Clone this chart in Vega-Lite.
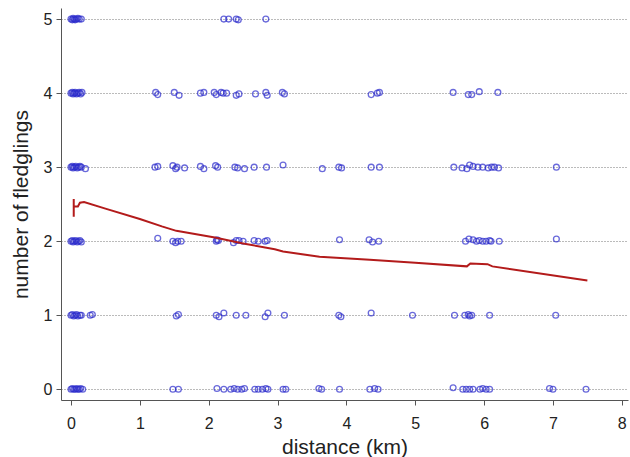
{
  "$schema": "https://vega.github.io/schema/vega-lite/v6.json",
  "width": 567,
  "height": 392,
  "autosize": "none",
  "padding": {"left": 61, "top": 8, "right": 2, "bottom": 57},
  "background": "white",
  "config": {
    "view": {"stroke": null},
    "font": "Liberation Sans",
    "axis": {
      "domainColor": "#555555",
      "tickColor": "#555555",
      "tickSize": 5,
      "labelFontSize": 16,
      "labelColor": "#222222",
      "titleFontSize": 21,
      "titleFontWeight": "normal",
      "titleColor": "#222222",
      "format": "d"
    }
  },
  "layer": [
    {
      "data": {
        "values": [
          {"distance": 0.0, "fledglings": 5.0}, {"distance": 0.02, "fledglings": 4.99}, {"distance": 0.03, "fledglings": 5.01},
          {"distance": 0.05, "fledglings": 5.0}, {"distance": 0.06, "fledglings": 4.99}, {"distance": 0.08, "fledglings": 5.0},
          {"distance": 0.1, "fledglings": 5.01}, {"distance": 0.12, "fledglings": 5.0}, {"distance": 0.15, "fledglings": 5.0},
          {"distance": 2.22, "fledglings": 5.0}, {"distance": 2.29, "fledglings": 5.0}, {"distance": 2.4, "fledglings": 5.0},
          {"distance": 2.43, "fledglings": 4.99}, {"distance": 2.83, "fledglings": 5.0},

          {"distance": 0.0, "fledglings": 4.0}, {"distance": 0.02, "fledglings": 4.01}, {"distance": 0.03, "fledglings": 3.99},
          {"distance": 0.05, "fledglings": 4.0}, {"distance": 0.06, "fledglings": 4.01}, {"distance": 0.08, "fledglings": 3.99},
          {"distance": 0.1, "fledglings": 4.0}, {"distance": 0.12, "fledglings": 4.01}, {"distance": 0.14, "fledglings": 3.99},
          {"distance": 0.16, "fledglings": 4.01},
          {"distance": 1.23, "fledglings": 4.01}, {"distance": 1.26, "fledglings": 3.98}, {"distance": 1.5, "fledglings": 4.01},
          {"distance": 1.57, "fledglings": 3.97}, {"distance": 1.88, "fledglings": 4.0}, {"distance": 1.93, "fledglings": 4.01},
          {"distance": 2.08, "fledglings": 4.01}, {"distance": 2.11, "fledglings": 3.98}, {"distance": 2.18, "fledglings": 4.01},
          {"distance": 2.21, "fledglings": 4.0}, {"distance": 2.26, "fledglings": 4.0}, {"distance": 2.4, "fledglings": 3.97},
          {"distance": 2.44, "fledglings": 3.99}, {"distance": 2.68, "fledglings": 3.99}, {"distance": 2.83, "fledglings": 4.01},
          {"distance": 2.85, "fledglings": 3.97}, {"distance": 3.07, "fledglings": 4.01}, {"distance": 3.1, "fledglings": 3.99},
          {"distance": 4.36, "fledglings": 3.98}, {"distance": 4.45, "fledglings": 4.0}, {"distance": 4.48, "fledglings": 4.01},
          {"distance": 5.55, "fledglings": 4.01}, {"distance": 5.77, "fledglings": 3.98}, {"distance": 5.82, "fledglings": 3.98},
          {"distance": 5.93, "fledglings": 4.02}, {"distance": 6.2, "fledglings": 4.01},

          {"distance": 0.0, "fledglings": 3.0}, {"distance": 0.02, "fledglings": 3.01}, {"distance": 0.03, "fledglings": 2.99},
          {"distance": 0.05, "fledglings": 3.0}, {"distance": 0.07, "fledglings": 3.01}, {"distance": 0.09, "fledglings": 2.99},
          {"distance": 0.11, "fledglings": 3.0}, {"distance": 0.13, "fledglings": 3.01}, {"distance": 0.15, "fledglings": 3.0},
          {"distance": 0.21, "fledglings": 2.98},
          {"distance": 1.22, "fledglings": 3.0}, {"distance": 1.26, "fledglings": 3.01}, {"distance": 1.48, "fledglings": 3.02},
          {"distance": 1.52, "fledglings": 2.98}, {"distance": 1.54, "fledglings": 3.0}, {"distance": 1.65, "fledglings": 2.99},
          {"distance": 1.88, "fledglings": 3.01}, {"distance": 1.93, "fledglings": 2.98}, {"distance": 2.1, "fledglings": 3.02},
          {"distance": 2.13, "fledglings": 3.0}, {"distance": 2.38, "fledglings": 3.0}, {"distance": 2.42, "fledglings": 2.99},
          {"distance": 2.52, "fledglings": 2.98}, {"distance": 2.66, "fledglings": 3.0}, {"distance": 2.84, "fledglings": 3.0},
          {"distance": 3.08, "fledglings": 3.03}, {"distance": 3.65, "fledglings": 2.98}, {"distance": 3.89, "fledglings": 3.0},
          {"distance": 3.93, "fledglings": 2.99}, {"distance": 4.36, "fledglings": 3.0}, {"distance": 4.48, "fledglings": 3.0},
          {"distance": 5.56, "fledglings": 3.0}, {"distance": 5.68, "fledglings": 2.99}, {"distance": 5.75, "fledglings": 2.98},
          {"distance": 5.79, "fledglings": 3.03}, {"distance": 5.84, "fledglings": 3.01}, {"distance": 5.91, "fledglings": 3.0},
          {"distance": 5.98, "fledglings": 3.0}, {"distance": 6.06, "fledglings": 2.99}, {"distance": 6.11, "fledglings": 3.0},
          {"distance": 6.15, "fledglings": 3.0}, {"distance": 6.21, "fledglings": 2.99}, {"distance": 7.05, "fledglings": 3.0},

          {"distance": 0.0, "fledglings": 2.0}, {"distance": 0.02, "fledglings": 2.01}, {"distance": 0.03, "fledglings": 1.99},
          {"distance": 0.05, "fledglings": 2.0}, {"distance": 0.07, "fledglings": 2.01}, {"distance": 0.09, "fledglings": 1.99},
          {"distance": 0.11, "fledglings": 2.0}, {"distance": 0.13, "fledglings": 2.01}, {"distance": 0.15, "fledglings": 1.99},
          {"distance": 1.26, "fledglings": 2.04}, {"distance": 1.48, "fledglings": 2.0}, {"distance": 1.52, "fledglings": 1.98},
          {"distance": 1.55, "fledglings": 2.0}, {"distance": 1.6, "fledglings": 2.0}, {"distance": 2.11, "fledglings": 2.0},
          {"distance": 2.12, "fledglings": 2.02}, {"distance": 2.14, "fledglings": 2.01}, {"distance": 2.36, "fledglings": 1.98},
          {"distance": 2.4, "fledglings": 2.01}, {"distance": 2.44, "fledglings": 2.01}, {"distance": 2.5, "fledglings": 2.0},
          {"distance": 2.66, "fledglings": 2.01}, {"distance": 2.72, "fledglings": 2.0}, {"distance": 2.82, "fledglings": 2.0},
          {"distance": 2.85, "fledglings": 2.01}, {"distance": 3.9, "fledglings": 2.02}, {"distance": 4.33, "fledglings": 2.02},
          {"distance": 4.38, "fledglings": 1.99}, {"distance": 4.47, "fledglings": 2.0}, {"distance": 5.73, "fledglings": 2.0},
          {"distance": 5.78, "fledglings": 2.03}, {"distance": 5.84, "fledglings": 2.02}, {"distance": 5.89, "fledglings": 2.0},
          {"distance": 5.93, "fledglings": 2.01}, {"distance": 5.98, "fledglings": 2.0}, {"distance": 6.03, "fledglings": 2.0},
          {"distance": 6.08, "fledglings": 2.01}, {"distance": 6.1, "fledglings": 2.0}, {"distance": 6.22, "fledglings": 2.0},
          {"distance": 7.05, "fledglings": 2.03},

          {"distance": 0.0, "fledglings": 1.0}, {"distance": 0.02, "fledglings": 1.01}, {"distance": 0.04, "fledglings": 0.99},
          {"distance": 0.06, "fledglings": 1.0}, {"distance": 0.08, "fledglings": 1.01}, {"distance": 0.1, "fledglings": 0.99},
          {"distance": 0.13, "fledglings": 1.0}, {"distance": 0.15, "fledglings": 1.0}, {"distance": 0.28, "fledglings": 1.0},
          {"distance": 0.31, "fledglings": 1.01},
          {"distance": 1.53, "fledglings": 0.99}, {"distance": 1.56, "fledglings": 1.01}, {"distance": 2.11, "fledglings": 1.0},
          {"distance": 2.15, "fledglings": 0.98}, {"distance": 2.22, "fledglings": 1.03}, {"distance": 2.4, "fledglings": 1.0},
          {"distance": 2.54, "fledglings": 1.0}, {"distance": 2.82, "fledglings": 0.98}, {"distance": 2.86, "fledglings": 1.03},
          {"distance": 3.1, "fledglings": 1.0}, {"distance": 3.89, "fledglings": 1.0}, {"distance": 3.92, "fledglings": 0.98},
          {"distance": 4.36, "fledglings": 1.03}, {"distance": 4.96, "fledglings": 1.0}, {"distance": 5.57, "fledglings": 1.0},
          {"distance": 5.72, "fledglings": 1.0}, {"distance": 5.77, "fledglings": 1.01}, {"distance": 5.79, "fledglings": 0.99},
          {"distance": 5.82, "fledglings": 1.0}, {"distance": 6.08, "fledglings": 1.0}, {"distance": 7.04, "fledglings": 1.0},

          {"distance": 0.0, "fledglings": 0.0}, {"distance": 0.02, "fledglings": 0.01}, {"distance": 0.04, "fledglings": 0.0},
          {"distance": 0.06, "fledglings": 0.0}, {"distance": 0.08, "fledglings": 0.01}, {"distance": 0.1, "fledglings": 0.0},
          {"distance": 0.12, "fledglings": 0.0}, {"distance": 0.14, "fledglings": 0.01}, {"distance": 0.17, "fledglings": 0.0},
          {"distance": 1.48, "fledglings": 0.0}, {"distance": 1.56, "fledglings": 0.0}, {"distance": 2.12, "fledglings": 0.01},
          {"distance": 2.22, "fledglings": 0.0}, {"distance": 2.32, "fledglings": 0.0}, {"distance": 2.37, "fledglings": 0.01},
          {"distance": 2.42, "fledglings": 0.0}, {"distance": 2.48, "fledglings": 0.0}, {"distance": 2.52, "fledglings": 0.01},
          {"distance": 2.67, "fledglings": 0.0}, {"distance": 2.72, "fledglings": 0.0}, {"distance": 2.78, "fledglings": 0.0},
          {"distance": 2.83, "fledglings": 0.01}, {"distance": 2.86, "fledglings": 0.0}, {"distance": 3.08, "fledglings": 0.0},
          {"distance": 3.12, "fledglings": 0.0}, {"distance": 3.6, "fledglings": 0.01}, {"distance": 3.64, "fledglings": 0.0},
          {"distance": 3.9, "fledglings": 0.0}, {"distance": 4.34, "fledglings": 0.0}, {"distance": 4.41, "fledglings": 0.01},
          {"distance": 4.46, "fledglings": 0.0}, {"distance": 5.55, "fledglings": 0.02}, {"distance": 5.69, "fledglings": 0.0},
          {"distance": 5.74, "fledglings": 0.0}, {"distance": 5.79, "fledglings": 0.0}, {"distance": 5.84, "fledglings": 0.0},
          {"distance": 5.94, "fledglings": 0.0}, {"distance": 5.98, "fledglings": 0.01}, {"distance": 6.03, "fledglings": 0.0},
          {"distance": 6.08, "fledglings": 0.0}, {"distance": 6.95, "fledglings": 0.01}, {"distance": 7.0, "fledglings": 0.0},
          {"distance": 7.48, "fledglings": 0.0}
        ]
      },
      "mark": {"type": "point", "filled": false, "size": 34, "strokeWidth": 1.3, "color": "#2b2bcc"},
      "encoding": {
        "x": {
          "field": "distance",
          "type": "quantitative",
          "scale": {"domain": [-0.145, 8.09], "nice": false, "zero": false},
          "axis": {"title": "distance (km)", "values": [0, 1, 2, 3, 4, 5, 6, 7, 8], "grid": false, "labelPadding": 10, "titlePadding": 5}
        },
        "y": {
          "field": "fledglings",
          "type": "quantitative",
          "scale": {"domain": [-0.145, 5.15], "nice": false, "zero": false},
          "axis": {
            "title": "number of fledglings",
            "values": [0, 1, 2, 3, 4, 5],
            "grid": true,
            "gridColor": "#777777",
            "gridDash": [1, 2],
            "gridWidth": 1,
            "labelPadding": 4,
            "titlePadding": 12
          }
        }
      }
    },
    {
      "data": {
        "values": [
          {"i": 1, "distance": 0.04, "fledglings": 2.57},
          {"i": 2, "distance": 0.04, "fledglings": 2.33},
          {"i": 3, "distance": 0.04, "fledglings": 2.47},
          {"i": 4, "distance": 0.1, "fledglings": 2.47},
          {"i": 5, "distance": 0.13, "fledglings": 2.52},
          {"i": 6, "distance": 0.19, "fledglings": 2.53},
          {"i": 7, "distance": 0.5, "fledglings": 2.44},
          {"i": 8, "distance": 1.0, "fledglings": 2.3},
          {"i": 9, "distance": 1.32, "fledglings": 2.2},
          {"i": 10, "distance": 1.53, "fledglings": 2.14},
          {"i": 11, "distance": 2.09, "fledglings": 2.05},
          {"i": 12, "distance": 2.5, "fledglings": 1.97},
          {"i": 13, "distance": 2.96, "fledglings": 1.89},
          {"i": 14, "distance": 3.08, "fledglings": 1.86},
          {"i": 15, "distance": 3.61, "fledglings": 1.79},
          {"i": 16, "distance": 4.34, "fledglings": 1.75},
          {"i": 17, "distance": 5.0, "fledglings": 1.71},
          {"i": 18, "distance": 5.75, "fledglings": 1.66},
          {"i": 19, "distance": 5.8, "fledglings": 1.7},
          {"i": 20, "distance": 6.05, "fledglings": 1.69},
          {"i": 21, "distance": 6.12, "fledglings": 1.66},
          {"i": 22, "distance": 7.5, "fledglings": 1.47}
        ]
      },
      "mark": {"type": "line", "color": "#b31b1b", "strokeWidth": 2},
      "encoding": {
        "x": {"field": "distance", "type": "quantitative"},
        "y": {"field": "fledglings", "type": "quantitative"},
        "order": {"field": "i", "type": "quantitative"}
      }
    }
  ]
}
